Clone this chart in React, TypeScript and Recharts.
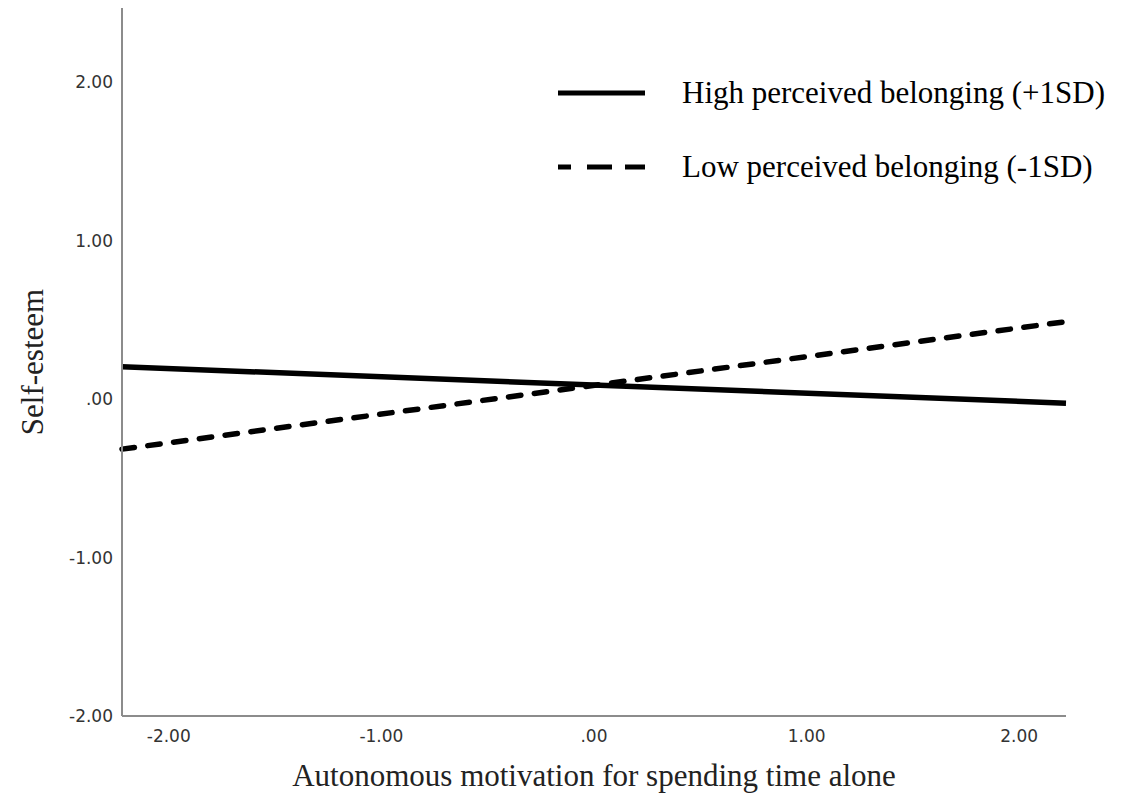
import { LineChart, Line, XAxis, YAxis } from 'recharts';

// Simple slopes: self-esteem by autonomous motivation at +/-1SD belonging
const motivation = [-2.22, 2.22];
const highBelonging = [0.205, -0.025];
const lowBelonging = [-0.315, 0.49];

const xTicks = [-2, -1, 0, 1, 2];
const yTicks = [-2, -1, 0, 1, 2];

const seriesNames = {
  high: 'High perceived belonging (+1SD)',
  low: 'Low perceived belonging (-1SD)',
};

const rows = motivation.map((x, i) => ({
  x,
  high: highBelonging[i],
  low: lowBelonging[i],
}));

// SPSS style: ".00", "1.00", "-2.00"
const spssFormat = (v: number) => {
  const s = Math.abs(v).toFixed(2).replace(/^0/, '');
  return v < 0 ? '-' + s : s;
};

const SERIF = '"Liberation Serif", "Times New Roman", serif';
const SANS = '"DejaVu Sans", Verdana, sans-serif';
const AXIS_COLOR = '#8c8c8c';
const LINE_WIDTH = 5.5;
const DASH = '12.5 13.5';
const TITLE_SIZE = 31;

// Drawn on top of the plot, so it does not eat into the chart margins
function SlopeLegend() {
  const items = [
    { key: 'high', dash: undefined },
    { key: 'low', dash: '13 16 25 13 21 100' },
  ] as const;
  return (
    <svg
      width={565}
      height={130}
      style={{ position: 'absolute', left: 555, top: 70, display: 'block' }}
    >
      {items.map((item, i) => {
        const y = 23 + i * 74;
        return (
          <g key={item.key}>
            <line
              x1={3}
              x2={90}
              y1={y}
              y2={y}
              stroke="#000"
              strokeWidth={5}
              strokeDasharray={item.dash}
            />
            <text
              x={127}
              y={y + 10}
              fontFamily={SERIF}
              fontSize={TITLE_SIZE}
              fill="#000"
            >
              {seriesNames[item.key]}
            </text>
          </g>
        );
      })}
    </svg>
  );
}

export default function App() {
  return (
    <div
      style={{
        position: 'absolute',
        left: 0,
        top: 0,
        width: 1122,
        height: 802,
        background: '#fff',
      }}
    >
      <LineChart
        width={1122}
        height={802}
        data={rows}
        margin={{ top: 8, right: 56, left: 0, bottom: 0 }}
      >
        <XAxis
          dataKey="x"
          type="number"
          domain={[-2.22, 2.22]}
          ticks={xTicks}
          tickFormatter={spssFormat}
          tickLine={false}
          tickSize={0}
          axisLine={{ stroke: AXIS_COLOR, strokeWidth: 2 }}
          tick={{ fontSize: 17, fontFamily: SANS, fill: '#333' }}
          tickMargin={14}
          height={86}
          label={{
            value: 'Autonomous motivation for spending time alone',
            position: 'insideBottom',
            offset: 16,
            fontFamily: SERIF,
            fontSize: TITLE_SIZE,
            fill: '#222',
          }}
        />
        <YAxis
          type="number"
          domain={[-2, 2.47]}
          ticks={yTicks}
          tickFormatter={spssFormat}
          tickLine={false}
          tickSize={0}
          axisLine={{ stroke: AXIS_COLOR, strokeWidth: 2 }}
          tick={{ fontSize: 17, fontFamily: SANS, fill: '#333' }}
          tickMargin={9}
          width={122}
          label={{
            value: 'Self-esteem',
            angle: -90,
            position: 'insideLeft',
            offset: 32,
            fontFamily: SERIF,
            fontSize: TITLE_SIZE,
            fill: '#222',
            style: { textAnchor: 'middle' },
          }}
        />
        <Line
          dataKey="high"
          name={seriesNames.high}
          stroke="#000"
          strokeWidth={LINE_WIDTH}
          dot={false}
          activeDot={false}
          isAnimationActive={false}
        />
        <Line
          dataKey="low"
          name={seriesNames.low}
          stroke="#000"
          strokeWidth={LINE_WIDTH}
          strokeDasharray={DASH}
          strokeLinecap="round"
          dot={false}
          activeDot={false}
          isAnimationActive={false}
        />
      </LineChart>
      <SlopeLegend />
    </div>
  );
}
